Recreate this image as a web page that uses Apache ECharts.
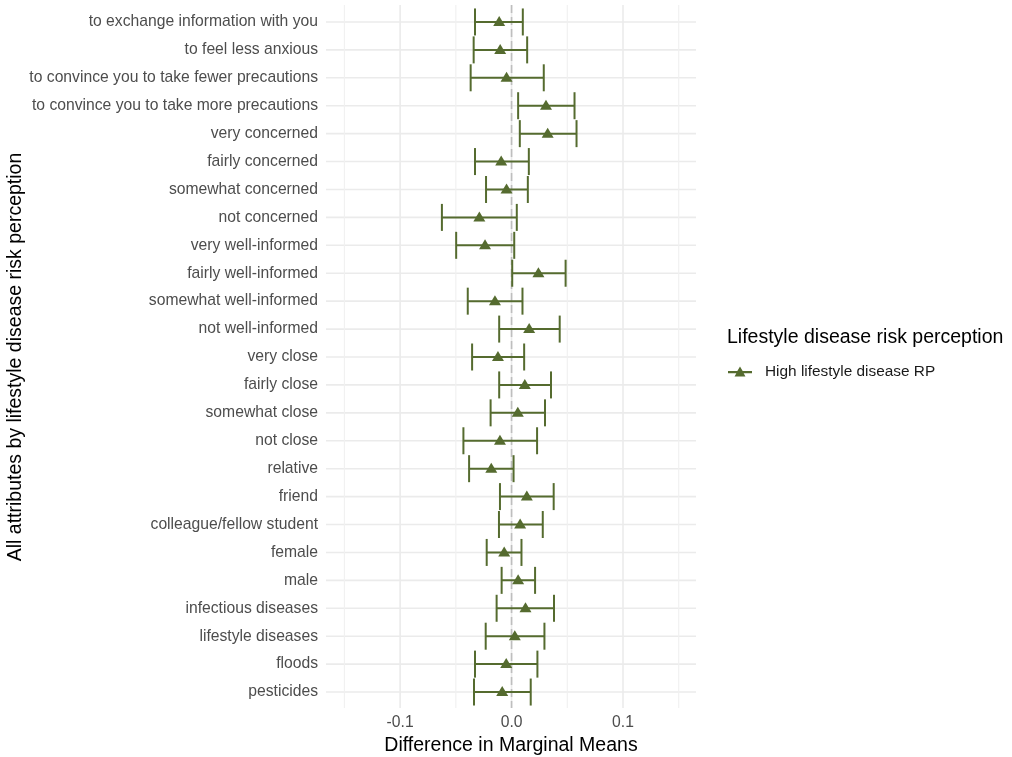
<!DOCTYPE html>
<html>
<head>
<meta charset="utf-8">
<script src="https://cdn.jsdelivr.net/npm/echarts@6/dist/echarts.min.js"></script>
<style>
html,body{margin:0;padding:0;background:#fff;}
#chart{width:1012px;height:757px;}
</style>
</head>
<body>
<div id="chart"></div>
<script>
// Categories, top to bottom
const categories = [
  "to exchange information with you",
  "to feel less anxious",
  "to convince you to take fewer precautions",
  "to convince you to take more precautions",
  "very concerned",
  "fairly concerned",
  "somewhat concerned",
  "not concerned",
  "very well-informed",
  "fairly well-informed",
  "somewhat well-informed",
  "not well-informed",
  "very close",
  "fairly close",
  "somewhat close",
  "not close",
  "relative",
  "friend",
  "colleague/fellow student",
  "female",
  "male",
  "infectious diseases",
  "lifestyle diseases",
  "floods",
  "pesticides"
];
const estimates = [-0.0111,-0.0102,-0.0045,0.0309,0.0324,-0.0093,-0.0045,-0.0289,-0.0238,0.0241,-0.0149,0.0158,-0.0122,0.0119,0.0056,-0.0104,-0.0182,0.0137,0.0077,-0.0066,0.0059,0.0125,0.0029,-0.0048,-0.0084];
const lowers = [-0.0328,-0.0340,-0.0367,0.0059,0.0074,-0.0328,-0.0229,-0.0625,-0.0497,0.0006,-0.0393,-0.0111,-0.0354,-0.0111,-0.0188,-0.0432,-0.0381,-0.0104,-0.0113,-0.0223,-0.0089,-0.0134,-0.0232,-0.0328,-0.0337];
const uppers = [0.0101,0.0140,0.0289,0.0565,0.0583,0.0155,0.0146,0.0047,0.0024,0.0485,0.0098,0.0432,0.0113,0.0354,0.0300,0.0229,0.0018,0.0378,0.0280,0.0089,0.0211,0.0381,0.0295,0.0232,0.0172];
const xTickLabels = [-0.1, 0, 0.1];
const xGridValues = [-0.15, -0.1, -0.05, 0, 0.05, 0.1, 0.15];
const seriesName = "High lifestyle disease RP";
const legendTitle = "Lifestyle disease risk perception";
const xTitle = "Difference in Marginal Means";
const yTitle = "All attributes by lifestyle disease risk perception";

const COLOR = "#556B2F";
const FONT = "'Liberation Sans', Arial, sans-serif";

const chart = echarts.init(document.getElementById('chart'), null, {renderer: 'canvas'});

const errData = categories.map((c, i) => [i, lowers[i], uppers[i]]);
const ptData = categories.map((c, i) => [estimates[i], c]);

const option = {
  backgroundColor: '#fff',
  animation: false,
  textStyle: {fontFamily: FONT},
  grid: {left: 326, right: 316, top: 8, bottom: 51, containLabel: false, outerBoundsMode: 'none'},
  title: {
    text: legendTitle,
    left: 722, top: 323,
    textStyle: {fontFamily: FONT, fontSize: 19.5, fontWeight: 'normal', color: '#000'}
  },
  legend: {
    data: [seriesName],
    left: 723, top: 359,
    itemWidth: 24, itemHeight: 11, itemGap: 10,
    icon: 'path://M0,4L8.56,4L11,0L13.44,4L22,4L22,6L14.33,6L16,9L6,9L7.67,6L0,6Z',
    textStyle: {fontFamily: FONT, fontSize: 15.4, color: '#1a1a1a', padding: [0,0,0,8]},
    selectedMode: false
  },
  xAxis: {
    type: 'value',
    min: -0.1665, max: 0.1655,
    name: xTitle,
    nameLocation: 'middle',
    nameGap: 29,
    nameTextStyle: {fontFamily: FONT, fontSize: 19.5, color: '#000'},
    axisLine: {show: false},
    axisTick: {show: false},
    splitLine: {show: false},
    axisLabel: {
      customValues: xTickLabels,
      formatter: v => v.toFixed(1),
      fontFamily: FONT, fontSize: 15.7, color: '#4d4d4d', margin: 9
    }
  },
  yAxis: {
    type: 'category',
    data: categories,
    inverse: true,
    name: yTitle,
    nameLocation: 'middle',
    nameGap: 296,
    nameRotate: 90,
    nameTextStyle: {fontFamily: FONT, fontSize: 19.5, color: '#000'},
    axisLine: {show: false},
    axisTick: {show: false},
    splitLine: {show: false},
    axisLabel: {fontFamily: FONT, fontSize: 15.7, color: '#4d4d4d', margin: 8}
  },
  series: [
    {
      // horizontal gridlines at each category
      type: 'custom',
      silent: true,
      z: 1,
      data: categories.map((c, i) => [0, i]),
      encode: {x: 0, y: 1},
      renderItem: function (params, api) {
        const cs = params.coordSys;
        const y = api.coord([0, api.value(1)])[1];
        return {type: 'line', shape: {x1: cs.x, y1: y, x2: cs.x + cs.width, y2: y},
          style: {stroke: '#ebebeb', lineWidth: 1.6}};
      }
    },
    {
      // vertical gridlines
      type: 'custom',
      silent: true,
      z: 1,
      data: xGridValues.map(v => [v, 0]),
      encode: {x: 0, y: 1},
      renderItem: function (params, api) {
        const cs = params.coordSys;
        const v = api.value(0);
        const x = api.coord([v, 0])[0];
        const major = Math.abs(Math.round(v * 100) % 10) === 0;
        return {type: 'line', shape: {x1: x, y1: cs.y - 3, x2: x, y2: cs.y + cs.height + 2},
          style: {stroke: major ? '#ebebeb' : '#f0f0f0', lineWidth: major ? 1.6 : 1.1}};
      }
    },
    {
      // zero reference line
      type: 'custom',
      silent: true,
      z: 2,
      data: [[0, 0]],
      encode: {x: 0, y: 1},
      renderItem: function (params, api) {
        const cs = params.coordSys;
        const x = api.coord([api.value(0), 0])[0];
        return {type: 'line', shape: {x1: x, y1: cs.y - 3, x2: x, y2: cs.y + cs.height + 2},
          style: {stroke: '#bebebe', lineWidth: 1.6, lineDash: [8, 4]}};
      }
    },
    {
      // error bars
      name: seriesName,
      type: 'custom',
      z: 3,
      itemStyle: {color: COLOR},
      data: errData,
      encode: {x: [1, 2], y: 0},
      renderItem: function (params, api) {
        const ci = api.value(0);
        const lo = api.coord([api.value(1), ci]);
        const hi = api.coord([api.value(2), ci]);
        const h = 13.5;
        const st = {stroke: COLOR, lineWidth: 2, fill: null};
        return {type: 'group', children: [
          {type: 'line', shape: {x1: lo[0], y1: lo[1], x2: hi[0], y2: hi[1]}, style: st},
          {type: 'line', shape: {x1: lo[0], y1: lo[1] - h, x2: lo[0], y2: lo[1] + h}, style: st},
          {type: 'line', shape: {x1: hi[0], y1: hi[1] - h, x2: hi[0], y2: hi[1] + h}, style: st}
        ]};
      }
    },
    {
      name: seriesName,
      type: 'scatter',
      z: 4,
      symbol: 'triangle',
      symbolSize: [12, 10],
      symbolOffset: [0, -1],
      itemStyle: {color: COLOR, opacity: 1},
      data: ptData
    }
  ]
};
chart.setOption(option);
</script>
</body>
</html>
